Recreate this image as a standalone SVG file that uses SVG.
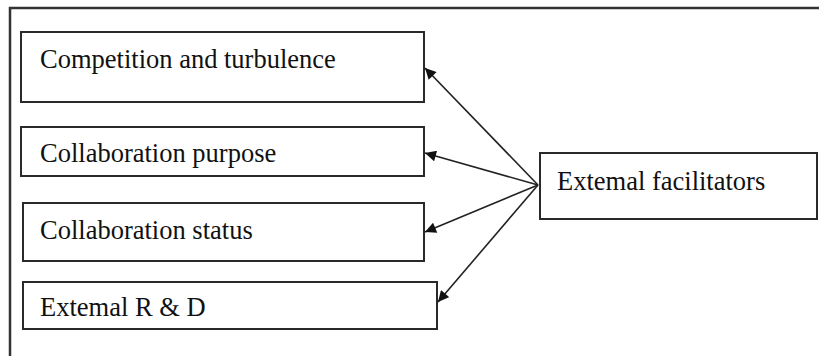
<svg xmlns="http://www.w3.org/2000/svg" width="819" height="356" viewBox="0 0 819 356">
  <style>
    .box { fill: #ffffff; stroke: #2a2a2a; stroke-width: 2; }
    .frame { fill: none; stroke: #333333; stroke-width: 2.5; }
    .label { font-family: "Liberation Serif", "Times New Roman", serif; font-size: 26.5px; fill: #111111; }
    .link { fill: none; stroke: #222222; stroke-width: 1.6; marker-end: url(#arrow); }
  </style>
  <defs>
    <marker id="arrow" viewBox="0 0 10 10" refX="10" refY="5" markerWidth="12" markerHeight="11" markerUnits="userSpaceOnUse" orient="auto">
      <path d="M0,0 L10,5 L0,10 z" fill="#111111"/>
    </marker>
  </defs>

  <!-- open frame: top and left edges -->
  <path class="frame" d="M10,356 L10,8 L819,8"/>

  <g id="competition">
    <rect class="box" x="21" y="32" width="403" height="70"/>
    <text class="label" x="40" y="68">Competition and turbulence</text>
  </g>

  <g id="purpose">
    <rect class="box" x="21" y="127" width="403" height="49"/>
    <text class="label" x="40" y="162">Collaboration purpose</text>
  </g>

  <g id="status">
    <rect class="box" x="23" y="203" width="401" height="58"/>
    <text class="label" x="40" y="239">Collaboration status</text>
  </g>

  <g id="rnd">
    <rect class="box" x="23" y="282" width="414" height="47"/>
    <text class="label" x="40" y="316">Extemal R &amp; D</text>
  </g>

  <g id="facilitators">
    <rect class="box" x="540" y="153" width="277" height="66"/>
    <text class="label" x="557" y="190">Extemal facilitators</text>
  </g>

  <g id="connectors">
    <line class="link" x1="538" y1="185" x2="425" y2="68"/>
    <line class="link" x1="538" y1="185" x2="425" y2="153"/>
    <line class="link" x1="538" y1="185" x2="425" y2="232"/>
    <line class="link" x1="538" y1="185" x2="438" y2="302"/>
  </g>
</svg>
